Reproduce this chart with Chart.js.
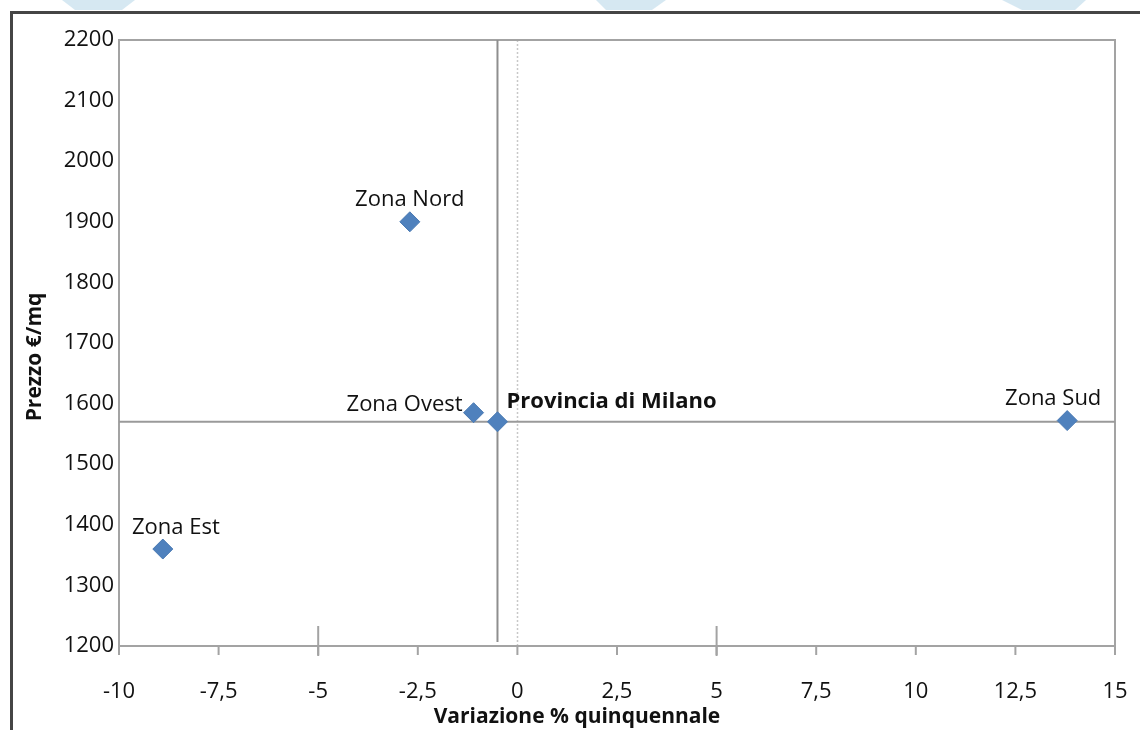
<!DOCTYPE html>
<html>
<head>
<meta charset="utf-8">
<script src="https://cdn.jsdelivr.net/npm/chart.js@4"></script>
<style>
  html, body { margin: 0; padding: 0; background: #fff; overflow: hidden; width: 1140px; height: 730px; }
  canvas { display: block; }
</style>
</head>
<body>
<canvas id="c" width="1140" height="730"></canvas>
<script>
// ---- data ----
const zoneNames = ['Zona Nord', 'Zona Ovest', 'Provincia di Milano', 'Zona Sud', 'Zona Est'];
const variazione = [-2.7, -1.1, -0.5, 13.8, -8.9];
const prezzo = [1900, 1585, 1570, 1572, 1360];
const xTicks = [-10, -7.5, -5, -2.5, 0, 2.5, 5, 7.5, 10, 12.5, 15];
const yTicks = [1200, 1300, 1400, 1500, 1600, 1700, 1800, 1900, 2000, 2100, 2200];
const referenceName = 'Provincia di Milano';
const xTitle = 'Variazione % quinquennale';
const yTitle = 'Prezzo €/mq';

// ---- label placement (style, not data) ----
const labelPlacement = {
  'Zona Nord': { dx: 0, dy: -22, align: 'center', bold: false },
  'Zona Ovest': { dx: -11, dy: -8, align: 'right', bold: false },
  'Provincia di Milano': { dx: 9, dy: -20, align: 'left', bold: true },
  'Zona Sud': { dx: -14, dy: -22, align: 'center', bold: false },
  'Zona Est': { dx: 13, dy: -21, align: 'center', bold: false }
};

const FONT = "'Open Sans', 'Noto Sans', sans-serif";
const TEXT = '#111111';
const refIdx = zoneNames.indexOf(referenceName);

const points = zoneNames.map((n, i) => ({ x: variazione[i], y: prezzo[i] }));

const decorPlugin = {
  id: 'decor',
  beforeDraw(chart) {
    const ctx = chart.ctx;
    const W = chart.width, H = chart.height;
    ctx.save();
    ctx.fillStyle = '#ffffff';
    ctx.fillRect(0, 0, W, H);
    // faint watermark fragments at the top edge
    ctx.fillStyle = 'rgba(196, 222, 236, 0.7)';
    const shapes = [
      [[62, 0], [135, 0], [122, 10], [75, 10]],
      [[596, 0], [666, 0], [652, 10], [606, 10]],
      [[1002, 0], [1086, 0], [1075, 10], [1022, 10]]
    ];
    shapes.forEach(s => {
      ctx.beginPath();
      ctx.moveTo(s[0][0], s[0][1]);
      for (let k = 1; k < s.length; k++) ctx.lineTo(s[k][0], s[k][1]);
      ctx.closePath();
      ctx.fill();
    });
    // dark outer frame
    ctx.strokeStyle = '#454545';
    ctx.lineWidth = 3;
    ctx.beginPath();
    ctx.moveTo(11.5, H);
    ctx.lineTo(11.5, 12.5);
    ctx.lineTo(W, 12.5);
    ctx.stroke();
    ctx.restore();
  },
  beforeDatasetsDraw(chart) {
    const ctx = chart.ctx;
    const xs = chart.scales.x, ys = chart.scales.y;
    const a = chart.chartArea;
    ctx.save();
    // dotted line at x = 0
    const x0 = Math.round(xs.getPixelForValue(0)) + 0.5;
    ctx.strokeStyle = '#c8c8c8';
    ctx.lineWidth = 1.5;
    ctx.setLineDash([2, 2]);
    ctx.beginPath();
    ctx.moveTo(x0, a.top);
    ctx.lineTo(x0, a.bottom);
    ctx.stroke();
    ctx.setLineDash([]);
    // plot box
    ctx.strokeStyle = '#a3a3a3';
    ctx.lineWidth = 2;
    ctx.strokeRect(a.left, a.top, a.right - a.left, a.bottom - a.top);
    // x tick marks
    xTicks.forEach(v => {
      const px = xs.getPixelForValue(v);
      ctx.beginPath();
      ctx.moveTo(px, a.bottom);
      ctx.lineTo(px, a.bottom + 9);
      ctx.stroke();
    });
    // long cross marks at -5 and 5
    [-5, 5].forEach(v => {
      const px = xs.getPixelForValue(v);
      ctx.beginPath();
      ctx.moveTo(px, ys.getPixelForValue(1233));
      ctx.lineTo(px, a.bottom + 10);
      ctx.stroke();
    });
    // reference cross through Provincia di Milano
    const rx = xs.getPixelForValue(variazione[refIdx]);
    const ry = ys.getPixelForValue(prezzo[refIdx]);
    ctx.strokeStyle = '#8e8e8e';
    ctx.lineWidth = 2;
    ctx.beginPath();
    ctx.moveTo(rx, a.top);
    ctx.lineTo(rx, a.bottom - 4);
    ctx.stroke();
    ctx.strokeStyle = '#9a9a9a';
    ctx.beginPath();
    ctx.moveTo(a.left, ry);
    ctx.lineTo(a.right, ry);
    ctx.stroke();
    ctx.restore();
  },
  afterDatasetsDraw(chart) {
    const ctx = chart.ctx;
    const meta = chart.getDatasetMeta(0);
    ctx.save();
    ctx.textBaseline = 'middle';
    ctx.fillStyle = TEXT;
    meta.data.forEach((el, i) => {
      const name = zoneNames[i];
      const p = labelPlacement[name] || { dx: 0, dy: -22, align: 'center', bold: false };
      ctx.font = (p.bold ? 'bold ' : '') + '22px ' + FONT;
      ctx.textAlign = p.align;
      ctx.fillText(name, el.x + p.dx, el.y + p.dy);
    });
    // axis titles
    ctx.font = 'bold 21px ' + FONT;
    ctx.textAlign = 'center';
    ctx.fillText(xTitle, 577, 717);
    ctx.translate(35, 357);
    ctx.rotate(-Math.PI / 2);
    ctx.fillText(yTitle, 0, 0);
    ctx.restore();
  }
};

const fmt = v => String(v).replace('.', ',');

new Chart(document.getElementById('c'), {
  type: 'scatter',
  data: {
    datasets: [{
      label: 'Zone',
      data: points,
      pointStyle: 'rectRot',
      pointRadius: 10,
      pointHoverRadius: 10,
      backgroundColor: '#4F81BD',
      borderColor: '#4a7ab3',
      borderWidth: 1
    }]
  },
  options: {
    responsive: false,
    maintainAspectRatio: false,
    devicePixelRatio: 1,
    animation: false,
    events: [],
    layout: { padding: { top: 40, right: 25, left: 0, bottom: 0 } },
    plugins: { legend: { display: false }, tooltip: { enabled: false } },
    scales: {
      x: {
        type: 'linear',
        min: -10, max: 15,
        afterBuildTicks: s => { s.ticks = xTicks.map(v => ({ value: v })); },
        afterFit: s => { s.height = 84; },
        grid: { display: false, drawTicks: true, tickLength: 30 },
        border: { display: false },
        ticks: {
          autoSkip: false, maxRotation: 0, minRotation: 0, padding: 3,
          color: TEXT,
          font: { family: FONT, size: 22 },
          callback: v => fmt(v)
        },
        title: { display: false }
      },
      y: {
        type: 'linear',
        min: 1200, max: 2200,
        afterBuildTicks: s => { s.ticks = yTicks.map(v => ({ value: v })); },
        afterFit: s => { s.width = 119; },
        grid: { display: false, drawTicks: false },
        border: { display: false },
        ticks: {
          autoSkip: false, padding: 5,
          color: TEXT,
          font: { family: FONT, size: 22 },
          callback: v => String(v)
        },
        title: { display: false }
      }
    }
  },
  plugins: [decorPlugin]
});
</script>
</body>
</html>
